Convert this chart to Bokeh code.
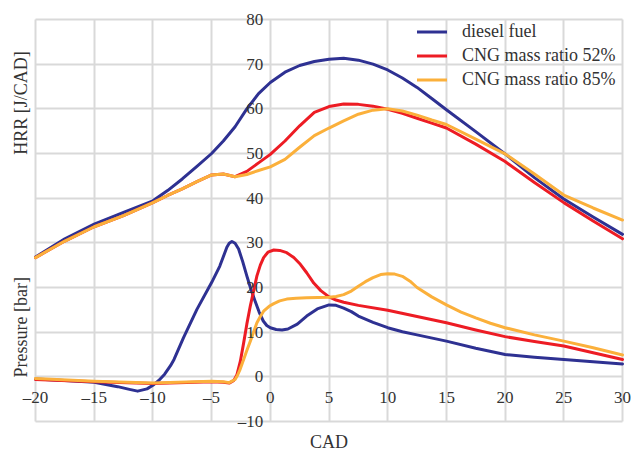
import math
from bokeh.plotting import figure
from bokeh.models import SingleIntervalTicker, CustomJSTickFormatter, Label, Legend, LegendItem
from bokeh.embed import file_html
from bokeh.resources import INLINE

# ---------------- data ----------------
hrr_cad = [-20, -17.5, -15, -12.5, -10, -8.75, -7.5, -6.25, -5, -4, -3, -2, -1, 0, 1.25, 2.5, 3.75,
           5, 6.25, 7.5, 8.75, 10, 11.25, 12.5, 13.75, 15, 17.5, 20, 22.5, 25, 27.5, 30]
hrr_diesel = [26.8, 30.9, 34.2, 36.8, 39.4, 41.7, 44.3, 47.1, 50.0, 52.8, 56.0, 60.0, 63.4, 65.9, 68.2, 69.7, 70.6,
              71.1, 71.3, 70.9, 70.0, 68.7, 66.9, 64.8, 62.3, 59.8, 54.9, 49.9, 44.6, 39.8, 35.8, 31.9]
hrr_cng52 = [26.7, 30.4, 33.6, 36.1, 39.0, 40.6, 42.1, 43.7, 45.2, 45.4, 44.8, 46.0, 47.9, 49.8, 52.8, 56.2, 59.2,
             60.5, 61.1, 61.0, 60.6, 59.9, 59.0, 57.9, 56.8, 55.7, 52.1, 48.2, 43.5, 39.0, 34.9, 30.9]
hrr_cng85 = [26.7, 30.4, 33.6, 36.1, 39.0, 40.6, 42.1, 43.7, 45.2, 45.4, 44.8, 45.3, 46.2, 47.0, 48.7, 51.4, 54.0,
             55.7, 57.3, 58.8, 59.7, 60.0, 59.5, 58.6, 57.5, 56.5, 53.2, 49.9, 45.4, 40.7, 37.8, 35.1]

p_diesel_cad = [-20, -17.5, -15, -13, -12, -11.3, -10.5, -10, -9.5, -9, -8.5, -8.2, -7.4, -6.25, -5,
                -4.3, -3.7, -3.5, -3.27, -3.0, -2.7, -2.35, -2.0, -1.65, -1.3, -0.95, -0.6, -0.3, 0,
                0.5, 1.0, 1.5, 2.3, 3.1, 4, 5, 5.6, 6.25, 6.9, 7.5, 8.75, 10, 11.25, 12.5,
                15, 17.5, 20, 22.5, 25, 27.5, 30]
p_diesel = [-0.5, -0.8, -1.2, -2.2, -2.8, -3.2, -2.7, -1.9, -0.8, 0.6, 2.5, 3.9, 8.7, 15.1, 21.1,
            24.8, 29.0, 29.9, 30.3, 29.9, 28.6, 25.8, 22.6, 19.6, 17.0, 14.5, 12.5, 11.5, 11.0,
            10.6, 10.5, 10.7, 11.8, 13.6, 15.2, 16.1, 16.0, 15.4, 14.6, 13.6, 12.2, 11.0, 10.1, 9.4,
            8.0, 6.4, 5.0, 4.4, 3.9, 3.4, 2.9]

p_cng52_cad = [-20, -15, -10, -5, -4, -3.5, -3.1, -2.84, -2.55, -2.27, -2.0, -1.7, -1.4, -1.14, -0.85,
               -0.57, -0.2, 0.3, 0.8, 1.4, 2.0, 2.56, 3.1, 3.7, 4.3, 5, 5.6, 6.25, 7.5, 10, 12.5,
               15, 17.5, 20, 22.5, 25, 27.5, 30]
p_cng52 = [-0.6, -1.1, -1.5, -1.1, -1.2, -1.4, -0.8, 0.5, 3.5, 7.6, 11.8, 15.9, 19.5, 22.6, 25.0,
           26.7, 27.9, 28.4, 28.3, 27.8, 26.7, 25.2, 23.3, 21.0, 19.3, 17.9, 17.2, 16.7, 16.0, 14.9, 13.5,
           12.1, 10.5, 9.0, 7.9, 6.9, 5.4, 3.9]

p_cng85_cad = [-20, -15, -10, -5, -4, -3.5, -3.0, -2.8, -2.6, -2.27, -2.0, -1.7, -1.4, -1.14, -0.85,
               -0.57, -0.1, 0.3, 0.8, 1.4, 2.2, 3.1, 5, 5.6, 6.25, 6.9, 7.5, 8.1, 8.75, 9.4, 10,
               10.6, 11.25, 11.9, 12.5, 13.75, 15, 16.25, 17.5, 18.75, 20, 22.5, 25, 27.5, 30]
p_cng85 = [-0.4, -1.0, -1.4, -1.0, -1.1, -1.3, -0.6, 0.3, 1.5, 3.9, 5.9, 8.0, 10.2, 12.1, 13.5,
           14.7, 15.8, 16.4, 17.0, 17.4, 17.6, 17.7, 17.8, 18.0, 18.4, 19.2, 20.3, 21.3, 22.2, 22.9, 23.1,
           23.0, 22.5, 21.4, 20.0, 17.9, 16.1, 14.5, 13.2, 12.0, 11.0, 9.4, 8.0, 6.5, 4.9]

series_names = ["diesel fuel", "CNG mass ratio 52%", "CNG mass ratio 85%"]
series_colors = ["#2E3192", "#ED1C24", "#FBB03B"]

x_lim = (-20, 30)
y_lim = (-10, 80)

FONT = "'Liberation Serif', serif"
TXT = "#333333"
GRID = "#d9d9d9"

W, H = 632, 451
# plotting area of the reference within the picture (pixels)
L, R, T, B = 35, 10, 19, 30
sx = (W - L - R) / (x_lim[1] - x_lim[0])
sy = (H - T - B) / (y_lim[1] - y_lim[0])
xr = (x_lim[0] - L / sx, x_lim[1] + R / sx)
yr = (y_lim[0] - B / sy, y_lim[1] + T / sy)

p = figure(width=W, height=H, x_range=xr, y_range=yr,
           output_backend="svg", toolbar_location=None,
           min_border_left=0, min_border_right=0, min_border_top=0, min_border_bottom=0)
p.outline_line_color = None
p.background_fill_color = "white"

fmt = CustomJSTickFormatter(code="return tick < 0 ? '\\u2013' + Math.abs(tick) : String(tick);")

xa = p.xaxis[0]
xa.fixed_location = 0
xa.bounds = x_lim
xa.ticker = SingleIntervalTicker(interval=5, num_minor_ticks=0)
xa.formatter = fmt
ya = p.yaxis[0]
ya.fixed_location = 0
ya.bounds = y_lim
ya.ticker = SingleIntervalTicker(interval=10, num_minor_ticks=0)
ya.formatter = fmt

for ax in (xa, ya):
    ax.axis_line_color = None
    ax.major_tick_line_color = None
    ax.minor_tick_line_color = None
    ax.major_tick_out = 0
    ax.major_tick_in = 0
    ax.major_label_text_font = FONT
    ax.major_label_text_font_size = "17px"
    ax.major_label_text_color = TXT
xa.major_label_standoff = 11
ya.major_label_standoff = 7
xa.axis_label = "CAD"
xa.axis_label_text_font = FONT
xa.axis_label_text_font_size = "18px"
xa.axis_label_text_font_style = "normal"
xa.axis_label_text_color = TXT
xa.axis_label_standoff = 22

p.xgrid.grid_line_color = GRID
p.ygrid.grid_line_color = GRID
p.xgrid.grid_line_width = 2
p.ygrid.grid_line_width = 2
p.xgrid.bounds = x_lim
p.xgrid.cross_bounds = y_lim
p.ygrid.bounds = y_lim
p.ygrid.cross_bounds = x_lim

hrr_vals = [hrr_diesel, hrr_cng52, hrr_cng85]
p_cads = [p_diesel_cad, p_cng52_cad, p_cng85_cad]
p_vals = [p_diesel, p_cng52, p_cng85]

items = []
for name, col, hv, pc, pv in zip(series_names, series_colors, hrr_vals, p_cads, p_vals):
    r1 = p.line(hrr_cad, hv, line_color=col, line_width=3, line_join="round", line_cap="round")
    r2 = p.line(pc, pv, line_color=col, line_width=3, line_join="round", line_cap="round")
    items.append(LegendItem(label=name, renderers=[r1]))

legend = Legend(items=items, location=(417, 361), padding=0, margin=0,
                glyph_width=30, glyph_height=21, label_height=21, spacing=3,
                label_standoff=15, border_line_color=None, background_fill_alpha=0,
                label_text_font=FONT, label_text_font_size="18px", label_text_color=TXT)
p.add_layout(legend, "center")

for txt, yv in (("HRR [J/CAD]", 61.3), ("Pressure [bar]", 11.1)):
    p.add_layout(Label(x=x_lim[0] - 15 / sx, y=yv, text=txt, angle=math.pi / 2, text_align="center",
                       text_baseline="middle", text_font=FONT, text_font_size="18px",
                       text_color=TXT))

open("out.html", "w").write(file_html(p, INLINE))
